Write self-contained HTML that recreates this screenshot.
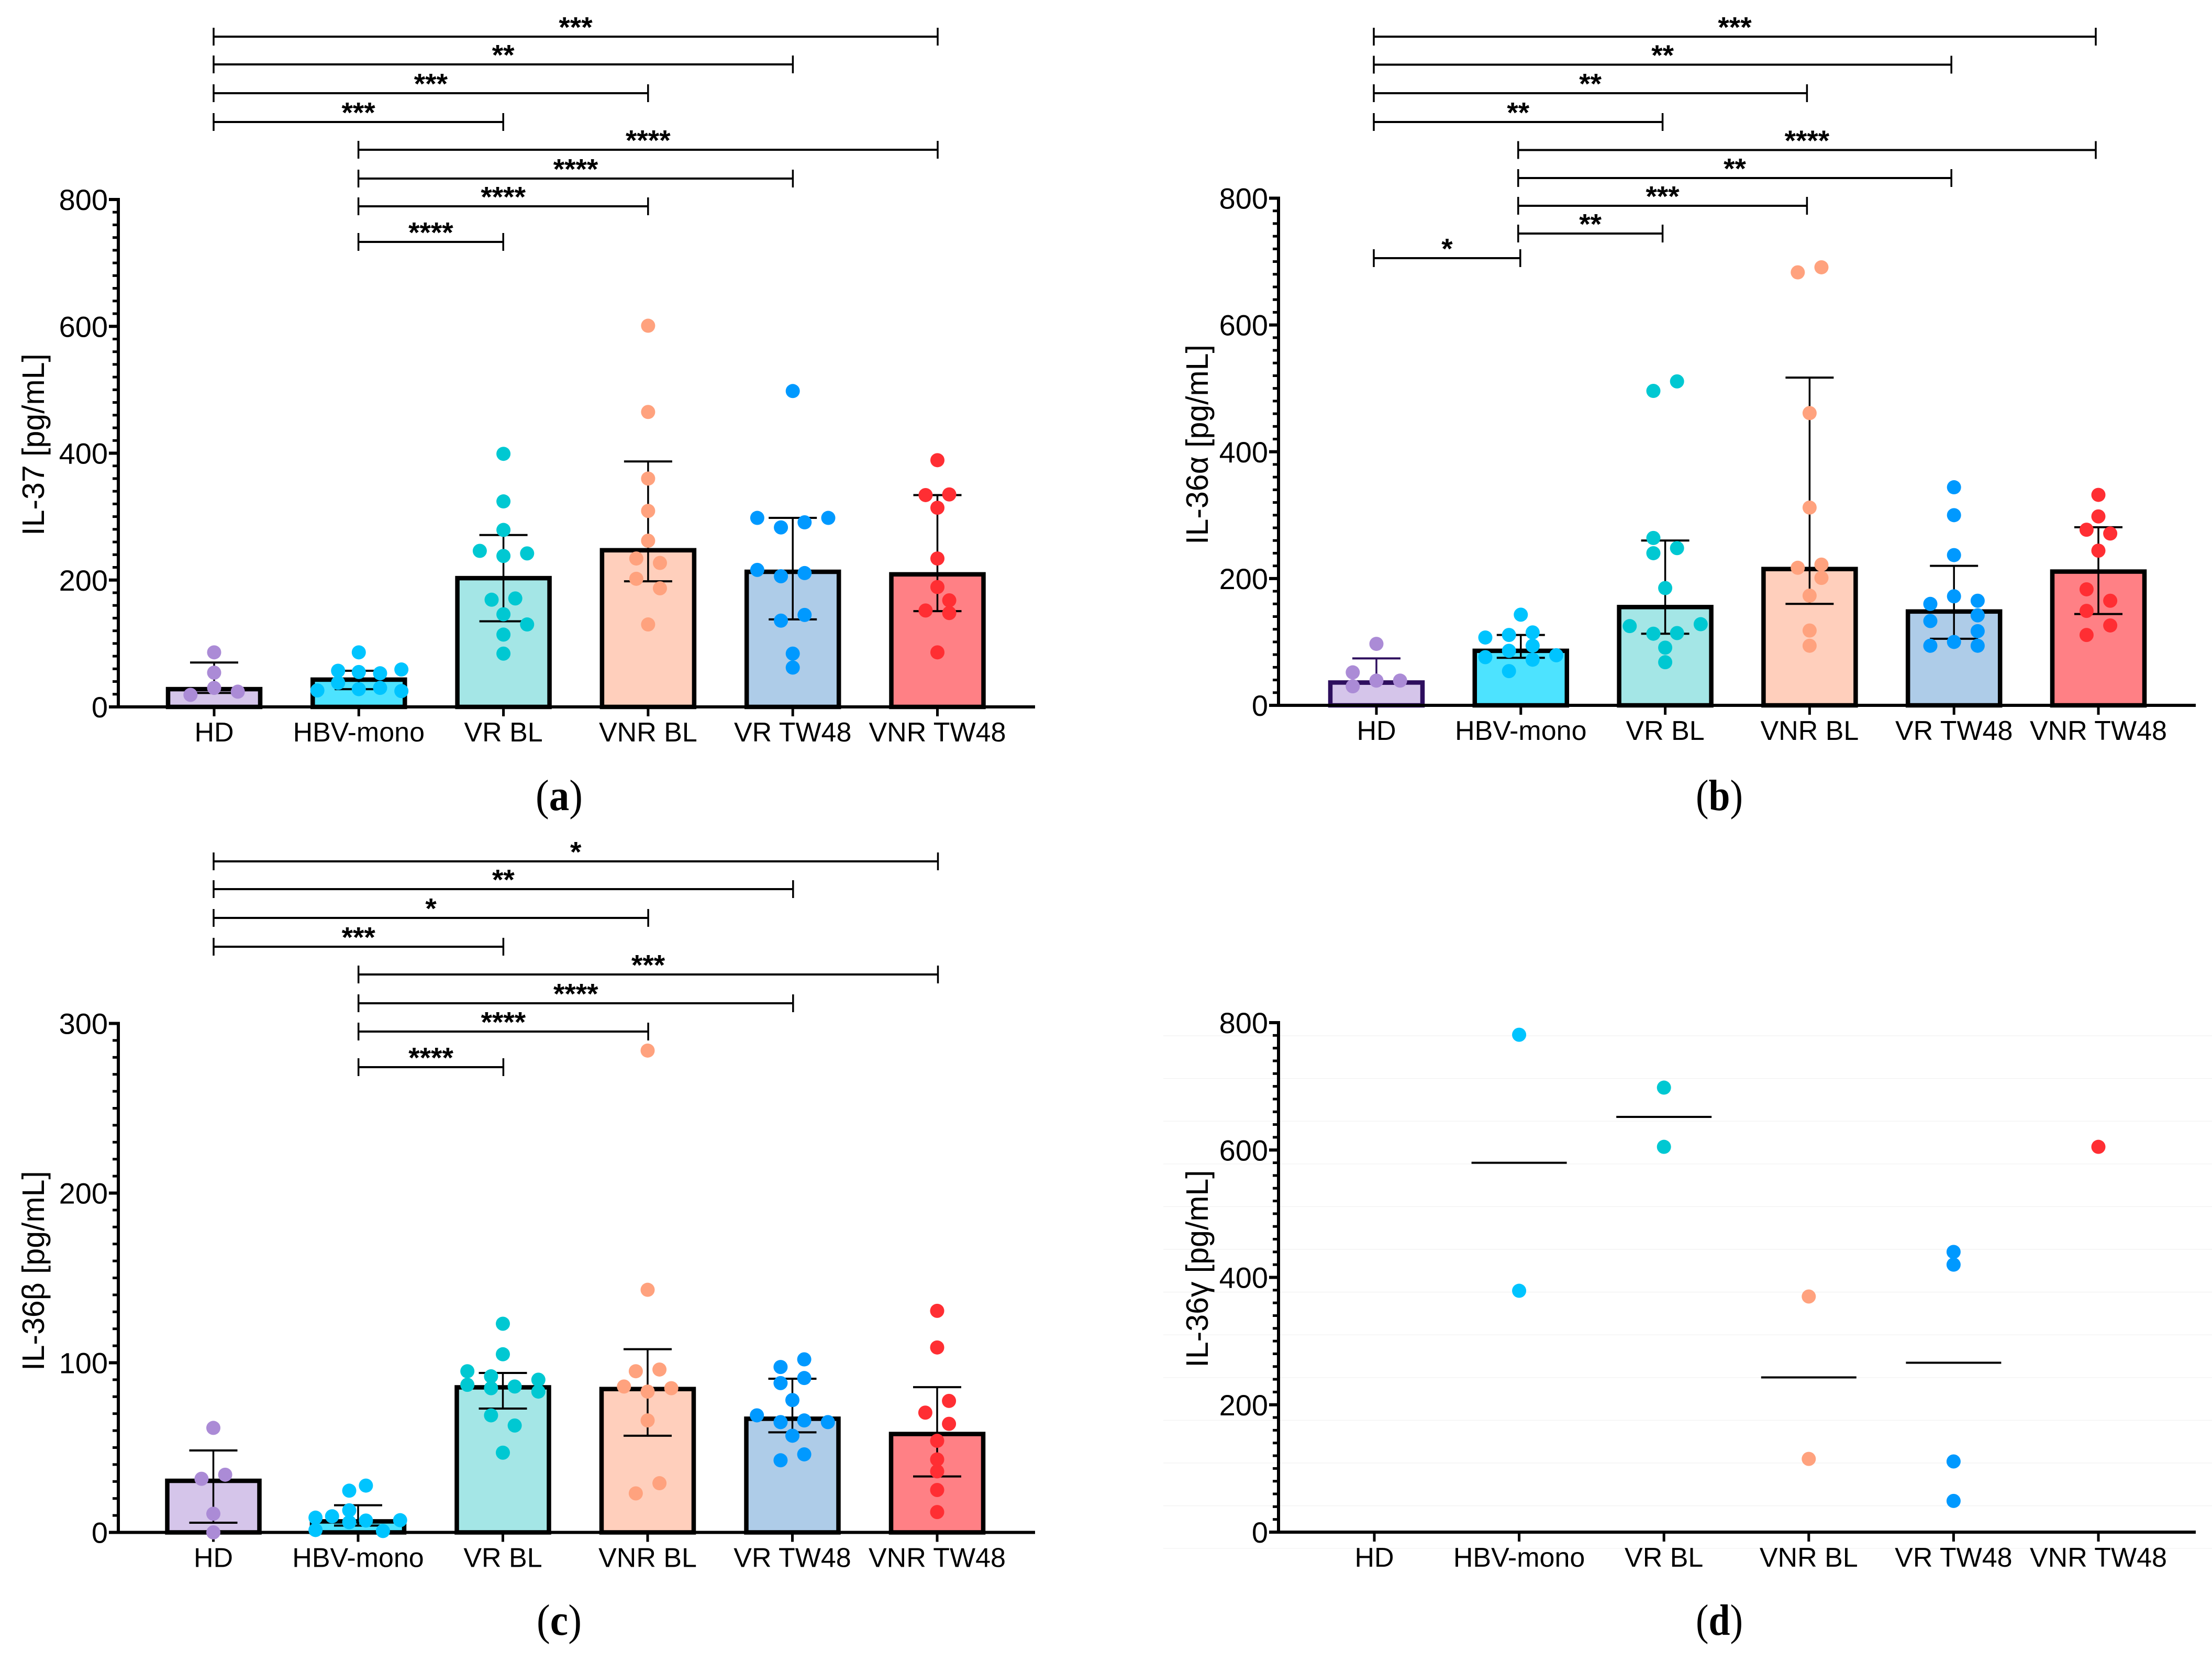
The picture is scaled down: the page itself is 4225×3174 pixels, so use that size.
<!DOCTYPE html>
<html lang="en">
<head>
<meta charset="utf-8">
<title>IL-37 and IL-36 cytokine levels</title>
<style>
html,body{margin:0;padding:0;background:#fff;}
svg{display:block;}
text{font-family:"Liberation Sans",Arial,sans-serif;fill:#000;}
.cap{font-family:"Liberation Serif","Times New Roman",serif;font-size:84px;}
.ytitle{font-size:59px;}
</style>
</head>
<body>
<svg id="figure" xmlns="http://www.w3.org/2000/svg" width="4225" height="3174" viewBox="0 0 4225 3174">
  <rect x="0" y="0" width="4225" height="3174" fill="#ffffff"/>
  <g id="layer-d-grid"></g>
  <g id="panel-a"></g>
  <g id="panel-b"></g>
  <g id="panel-c"></g>
  <g id="panel-d"></g>

  <text class="ytitle" text-anchor="middle" transform="translate(84,849) rotate(-90)">IL-37 [pg/mL]</text>
  <text class="ytitle" text-anchor="middle" transform="translate(2307,849) rotate(-90)">IL-36α [pg/mL]</text>
  <text class="ytitle" text-anchor="middle" transform="translate(84,2427) rotate(-90)">IL-36β [pg/mL]</text>
  <text class="ytitle" text-anchor="middle" transform="translate(2307,2423) rotate(-90)">IL-36γ [pg/mL]</text>

  <text class="cap" x="1068" y="1547" text-anchor="middle" textLength="90" lengthAdjust="spacingAndGlyphs">(<tspan font-weight="bold">a</tspan>)</text>
  <text class="cap" x="3284" y="1547" text-anchor="middle" textLength="90" lengthAdjust="spacingAndGlyphs">(<tspan font-weight="bold">b</tspan>)</text>
  <text class="cap" x="1068" y="3122" text-anchor="middle" textLength="86" lengthAdjust="spacingAndGlyphs">(<tspan font-weight="bold">c</tspan>)</text>
  <text class="cap" x="3284" y="3122" text-anchor="middle" textLength="90" lengthAdjust="spacingAndGlyphs">(<tspan font-weight="bold">d</tspan>)</text>
</svg>

<script>
// ---------- shared data ----------
const categories = ["HD", "HBV-mono", "VR BL", "VNR BL", "VR TW48", "VNR TW48"];
const tickLabels800 = [0, 200, 400, 600, 800];
const tickLabels300 = [0, 100, 200, 300];

// ---------- panel a: IL-37 ----------
const aBars = [28, 43, 203, 247, 213, 209];
const aErrHigh = [70, 57, 271, 387, 298, 334];
const aErrLow = [22, 28, 135, 198, 138, 151];
const aPoints = [
  [86, 54, 30, 19, 24],
  [86, 57, 55, 53, 59, 38, 26, 28, 30, 25],
  [399, 324, 279, 246, 242, 238, 171, 169, 146, 130, 114, 84],
  [601, 465, 360, 309, 262, 234, 227, 202, 187, 130],
  [498, 298, 298, 291, 283, 216, 211, 206, 145, 136, 84, 62],
  [389, 334, 335, 314, 234, 189, 168, 152, 148, 86]
];
const aSwarmColumns = [
  [0, 0, 0, -2, 2],
  [0, -1.75, 0, 1.8, 3.6, -1.75, -3.5, 0, 1.8, 3.6],
  [0, 0, 0, -2, 2, 0, 1, -1, 0, 2, 0, 0],
  [0, 0, 0, 0, 0, -1, 1, -1, 1, 0],
  [0, -3, 3, 1, -1, -3, 1, -1, 1, -1, 0, 0],
  [0, -1, 1, 0, 0, 0, 1, -1, 1, 0]
];
const aCompareFrom = [0, 0, 0, 0, 1, 1, 1, 1];
const aCompareTo = [5, 4, 3, 2, 5, 4, 3, 2];
const aStars = ["***", "**", "***", "***", "****", "****", "****", "****"];

// ---------- panel b: IL-36 alpha ----------
const bBars = [36, 86, 155, 215, 148, 211];
const bErrHigh = [74, 111, 260, 517, 220, 281];
const bErrLow = [34, 75, 113, 160, 105, 144];
const bPoints = [
  [97, 52, 39, 30, 39],
  [143, 107, 111, 115, 94, 86, 72, 76, 79, 54],
  [496, 511, 264, 248, 240, 185, 125, 128, 113, 114, 91, 68],
  [683, 691, 461, 312, 217, 222, 201, 173, 118, 94],
  [344, 300, 237, 172, 160, 165, 142, 133, 117, 100, 94, 94],
  [332, 298, 277, 271, 244, 183, 165, 149, 126, 111]
];
const bSwarmColumns = [
  [0, -2, 0, -2, 2],
  [0, -3, -1, 1, 1, -1, 1, -3, 3, -1],
  [-1, 1, -1, 1, -1, 0, -3, 3, -1, 1, 0, 0],
  [-1, 1, 0, 0, -1, 1, 1, 0, 0, 0],
  [0, 0, 0, 0, -2, 2, 2, -2, 2, 0, -2, 2],
  [0, 0, -1, 1, 0, -1, 1, -1, 1, -1]
];
const bCompareFrom = [0, 0, 0, 0, 1, 1, 1, 1, 0];
const bCompareTo = [5, 4, 3, 2, 5, 4, 3, 2, 1];
const bStars = ["***", "**", "**", "**", "****", "**", "***", "**", "*"];

// ---------- panel c: IL-36 beta ----------
const cBars = [30.4, 6.5, 85.5, 84.5, 67, 58];
const cErrHigh = [48.3, 16, 94, 108, 90.6, 85.6];
const cErrLow = [5.7, 4, 73, 57, 59, 33];
const cPoints = [
  [61.6, 34, 31.6, 11, 0],
  [8.7, 1.4, 9.5, 24.6, 13, 6, 27.6, 7, 0.8, 7.2],
  [123, 105, 95, 92, 90, 87, 85, 86, 83, 69, 63, 47],
  [284, 143, 95, 96, 86, 85, 83, 66, 29, 23],
  [102, 97.5, 88, 91, 78, 69, 65, 66, 65, 57, 46, 42.5],
  [130.6, 109, 77.5, 70.6, 64, 54, 43, 36, 25, 12]
];
const cSwarmColumns = [
  [0, 1, -1, 0, 0],
  [-3.6, -3.6, -2.2, -0.75, -0.75, -0.75, 0.66, 0.66, 2.1, 3.55],
  [0, 0, -3, -1, 3, -3, -1, 1, 3, -1, 1, 0],
  [0, 0, -1, 1, -2, 2, 0, 0, 1, -1],
  [1, -1, -1, 1, 0, -3, -1, 1, 3, 0, 1, -1],
  [0, 0, 1, -1, 1, 0, 0, 0, 0, 0]
];
const cCompareFrom = [0, 0, 0, 0, 1, 1, 1, 1];
const cCompareTo = [5, 4, 3, 2, 5, 4, 3, 2];
const cStars = ["*", "**", "*", "***", "***", "****", "****", "****"];

// ---------- panel d: IL-36 gamma ----------
const dMedians = [null, 580, 652, 243, 266, null];
const dPoints = [
  [],
  [781, 379],
  [698, 605],
  [370, 115],
  [440, 420, 111, 49],
  [605]
];

// ---------- styling (not data) ----------
const dotColours = ["#ab8bd6", "#00c4ff", "#00c8d2", "#ffa27e", "#0099ff", "#ff2e33"];
const fillColours = ["#d5c5ea", "#4de3ff", "#a4e6e6", "#ffcfbc", "#aecce8", "#ff8085"];
const NS = "http://www.w3.org/2000/svg";
const SLOT_PX = 22.6;
const DOT_R = 13.5;
const BAR_W = 176;
const CAP_HALF = 46;

function shape(parent, tag, attrs) {
  const node = document.createElementNS(NS, tag);
  for (const k in attrs) node.setAttribute(k, attrs[k]);
  parent.appendChild(node);
  return node;
}
function slug(s) {
  return s.toLowerCase().replace(/[^a-z0-9]+/g, "-");
}

function makeY(cfg) {
  return function (v) {
    return cfg.y0 - (v / cfg.yMax) * (cfg.y0 - cfg.yTop);
  };
}
function makeX(cfg) {
  return function (i) {
    return cfg.x0 + i * cfg.step;
  };
}

function drawAxes(root, cfg, Y, X) {
  const axisY = shape(root, "line", { x1: cfg.axisX, x2: cfg.axisX, y1: cfg.yTop - 3, y2: cfg.y0 + 3, stroke: "#000", "stroke-width": 6 });
  
  
  const axisX = shape(root, "line", { x1: cfg.axisX - 18, x2: cfg.axisEnd, y1: cfg.y0, y2: cfg.y0, stroke: "#000", "stroke-width": 6 });
  
  

  cfg.ticks.forEach(function (t, idx) {
    const y = Y(t);
    const tick = shape(root, "line", { x1: cfg.axisX - 18, x2: cfg.axisX, y1: y, y2: y, stroke: "#000", "stroke-width": 6 });
    
    
    const lab = shape(root, "text", { x: cfg.axisX - 20, y: y + 20, "text-anchor": "end", "font-size": 56 });
    lab.textContent = String(t);
    
    
    if (idx < cfg.ticks.length - 1) {
      const next = cfg.ticks[idx + 1];
      for (let m = 1; m < 10; m++) {
        const ym = Y(t + (next - t) * m / 10);
        const minor = shape(root, "line", { x1: cfg.axisX - 11, x2: cfg.axisX, y1: ym, y2: ym, stroke: "#000", "stroke-width": 5 });
        
        
      }
    }
  });

  categories.forEach(function (c, i) {
    const x = X(i);
    const tk = shape(root, "line", { x1: x, x2: x, y1: cfg.y0, y2: cfg.y0 + 18, stroke: "#000", "stroke-width": 5 });
    
    
    const lab = shape(root, "text", { x: x, y: cfg.y0 + 66, "text-anchor": "middle", "font-size": 52 });
    lab.textContent = c;
    
    
  });
}

function drawBars(root, cfg, Y, X) {
  cfg.bars.forEach(function (v, i) {
    const stroke = (cfg.strokes && cfg.strokes[i]) || "#000";
    const bar = shape(root, "rect", {
      x: X(i) - BAR_W / 2, y: Y(v), width: BAR_W, height: Math.max(0, cfg.y0 - Y(v)),
      fill: fillColours[i], stroke: stroke, "stroke-width": 8.5
    });
    
    
  });
}

function drawErrors(root, cfg, Y, X) {
  cfg.bars.forEach(function (v, i) {
    const stroke = (cfg.strokes && cfg.strokes[i]) || "#000";
    const x = X(i);
    const hi = Y(cfg.errHigh[i]);
    const lo = Y(cfg.errLow[i]);
    const stem = shape(root, "line", { x1: x, x2: x, y1: hi, y2: lo, stroke: stroke, "stroke-width": 3.5 });
    
    
    const capHi = shape(root, "line", { x1: x - CAP_HALF, x2: x + CAP_HALF, y1: hi, y2: hi, stroke: stroke, "stroke-width": 4 });
    
    
    const capLo = shape(root, "line", { x1: x - CAP_HALF, x2: x + CAP_HALF, y1: lo, y2: lo, stroke: stroke, "stroke-width": 4 });
    
    
  });
}

function drawDots(root, cfg, Y, X) {
  cfg.points.forEach(function (vals, i) {
    vals.forEach(function (v, j) {
      const col = cfg.columns ? cfg.columns[i][j] : 0;
      const dot = shape(root, "circle", { cx: X(i) + col * SLOT_PX, cy: Y(v), r: DOT_R, fill: dotColours[i] });
      
      
    });
  });
}

function drawBrackets(root, cfg) {
  cfg.from.forEach(function (a, k) {
    const y = cfg.bracketY[k];
    const xa = cfg.bx0 + a * cfg.bStep;
    const xb = cfg.bx0 + cfg.to[k] * cfg.bStep + (cfg.bracketEndShift && cfg.bracketEndShift[k] || 0);
    const h = shape(root, "line", { x1: xa, x2: xb, y1: y, y2: y, stroke: "#000", "stroke-width": 4 });
    
    
    const l = shape(root, "line", { x1: xa, x2: xa, y1: y - 17, y2: y + 17, stroke: "#000", "stroke-width": 3.5 });
    
    
    const r = shape(root, "line", { x1: xb, x2: xb, y1: y - 17, y2: y + 17, stroke: "#000", "stroke-width": 3.5 });
    
    
    const s = shape(root, "text", { x: (xa + xb) / 2, y: y + 0.5, "text-anchor": "middle", "font-size": 55, "font-weight": "bold" });
    s.textContent = cfg.stars[k];
    
    
  });
}

function drawPanel(id, cfg) {
  const root = document.getElementById(id);
  const Y = makeY(cfg);
  const X = makeX(cfg);
  if (cfg.bars) drawBars(root, cfg, Y, X);
  drawAxes(root, cfg, Y, X);
  if (cfg.bars) drawErrors(root, cfg, Y, X);
  if (cfg.medians) {
    cfg.medians.forEach(function (m, i) {
      if (m === null) return;
      const ln = shape(root, "line", { x1: X(i) - 91, x2: X(i) + 91, y1: Y(m), y2: Y(m), stroke: "#000", "stroke-width": 4 });
      
      
    });
  }
  drawDots(root, cfg, Y, X);
  if (cfg.from) drawBrackets(root, cfg);
}

drawPanel("panel-a", {
  axisX: 226, axisEnd: 1977, y0: 1350, yTop: 381, yMax: 800, ticks: tickLabels800,
  x0: 409, step: 276.3, bx0: 408, bStep: 276.6,
  bars: aBars, errHigh: aErrHigh, errLow: aErrLow, points: aPoints, columns: aSwarmColumns,
  from: aCompareFrom, to: aCompareTo, stars: aStars,
  bracketY: [70, 123, 178, 233, 286, 341, 394, 462]
});
drawPanel("panel-b", {
  axisX: 2442, axisEnd: 4194, y0: 1347, yTop: 378.5, yMax: 800, ticks: tickLabels800,
  x0: 2629, step: 275.8, bx0: 2624, bStep: 275.8,
  bars: bBars, errHigh: bErrHigh, errLow: bErrLow, points: bPoints, columns: bSwarmColumns,
  strokes: ["#2e0f5e"],
  from: bCompareFrom, to: bCompareTo, stars: bStars,
  bracketEndShift: { 8: 4 },
  bracketY: [70, 123.5, 178, 233, 286.5, 340, 393, 446, 493]
});
drawPanel("panel-c", {
  axisX: 226, axisEnd: 1977, y0: 2926.5, yTop: 1954.5, yMax: 300, ticks: tickLabels300,
  x0: 407.5, step: 276.5, bx0: 408, bStep: 276.7,
  bars: cBars, errHigh: cErrHigh, errLow: cErrLow, points: cPoints, columns: cSwarmColumns,
  from: cCompareFrom, to: cCompareTo, stars: cStars,
  bracketY: [1645, 1698, 1753, 1808, 1861, 1916, 1970, 2038]
});

// faint background rules behind panel d
const gridLayer = document.getElementById("layer-d-grid");
for (let g = 0; g < 13; g++) {
  const rule = shape(gridLayer, "line", { x1: 2222, x2: 4225, y1: 1978 + g * 81.6, y2: 1978 + g * 81.6, stroke: "#f1f1f1", "stroke-width": 1.2 });
  
  
}

drawPanel("panel-d", {
  axisX: 2442, axisEnd: 4194, y0: 2926, yTop: 1953, yMax: 800, ticks: tickLabels800,
  x0: 2625, step: 276.6,
  medians: dMedians, points: dPoints
});
</script>
</body>
</html>
